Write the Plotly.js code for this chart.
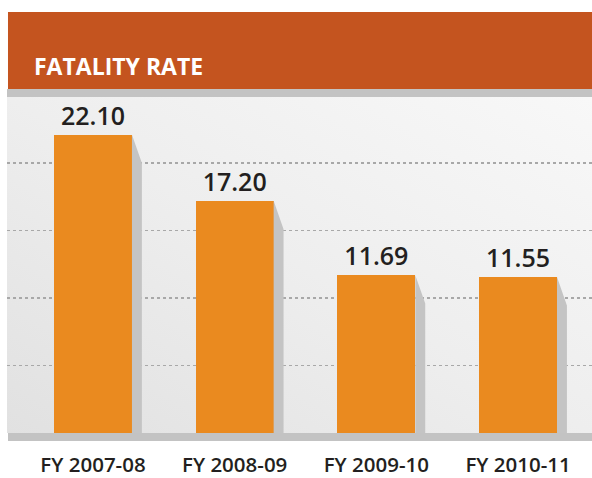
<!DOCTYPE html>
<html>
<head>
<meta charset="utf-8">
<script src="https://cdn.plot.ly/plotly-3.0.1.min.js"></script>
<style>
html,body{margin:0;padding:0;background:#ffffff;}
#wrap{position:relative;width:592px;height:478px;}
#panel{position:absolute;left:7px;top:97px;width:585px;height:336px;
  background:linear-gradient(to bottom left,#f8f8f8 0%,#eeeeee 50%,#e1e1e1 100%);}
#chart{position:absolute;left:0;top:0;width:592px;height:478px;}
</style>
</head>
<body>
<div id="wrap"><div id="panel"></div><div id="chart"></div></div>
<script>
const categories = ["FY 2007-08", "FY 2008-09", "FY 2009-10", "FY 2010-11"];
const fatalityRate = [22.10, 17.20, 11.69, 11.55];
const valueLabels = ["22.10", "17.20", "11.69", "11.55"];
const gridValues = [5, 10, 15, 20];

const idx = categories.map((c, i) => i);
const barWidth = 0.55;
const shadowWidth = 0.07;
const shadowDrop = 2.1;

// shadow polygons derived from the data values
const sx = [], sy = [];
idx.forEach((i) => {
  const x0 = i + barWidth / 2, x1 = x0 + shadowWidth;
  const v = fatalityRate[i];
  sx.push(x0, x1, x1, x0, x0, null);
  sy.push(v, v - shadowDrop, 0, 0, v, null);
});

const traces = [
  {
    type: "scatter", mode: "lines", x: sx, y: sy, fill: "toself",
    fillcolor: "#c4c4c4", line: {width: 0, color: "#c4c4c4"},
    hoverinfo: "skip", showlegend: false
  },
  {
    type: "bar", x: idx, y: fatalityRate, width: barWidth,
    marker: {color: "#ea8a1f", line: {width: 0}},
    text: valueLabels, textposition: "outside", cliponaxis: false,
    textfont: {family: "Open Sans, sans-serif", size: 25, color: "#231f20", weight: 600},
    showlegend: false
  }
];

const layout = {
  width: 592, height: 478,
  margin: {l: 7, r: 0, t: 97, b: 45, pad: 0},
  paper_bgcolor: "rgba(0,0,0,0)",
  plot_bgcolor: "rgba(0,0,0,0)",
  title: {
    text: "FATALITY RATE",
    font: {family: "Open Sans, sans-serif", size: 23, color: "#ffffff", weight: 700},
    x: 34 / 592, xanchor: "left", xref: "container",
    y: 1 - 67 / 478, yanchor: "middle", yref: "container"
  },
  xaxis: {
    range: [-0.607, 3.522], tickvals: idx, ticktext: categories,
    showgrid: false, zeroline: false, showline: false, ticks: "",
    ticklabelstandoff: 17,
    tickfont: {family: "Open Sans, sans-serif", size: 20.5, color: "#231f20", weight: 600},
    fixedrange: true
  },
  yaxis: {
    range: [0, 24.89], tickvals: gridValues, showticklabels: false,
    showgrid: true, gridcolor: "#a8a8a8", griddash: "dot", gridwidth: 1.3,
    zeroline: false, showline: false, ticks: "", fixedrange: true
  },
  shapes: [
    {type: "rect", xref: "paper", yref: "paper", x0: 0.0017, x1: 1, y0: 1.0238, y1: 1.253,
     fillcolor: "#c4541f", line: {width: 0}, layer: "below"},
    {type: "rect", xref: "paper", yref: "paper", x0: 0, x1: 1, y0: 1, y1: 1.0238,
     fillcolor: "#c3c3c3", line: {width: 0}, layer: "below"},
    {type: "rect", xref: "paper", yref: "paper", x0: 0.0017, x1: 1, y0: -0.0238, y1: 0,
     fillcolor: "#c3c3c3", line: {width: 0}, layer: "above"}
  ],
  bargap: 0
};

Plotly.newPlot("chart", traces, layout, {displayModeBar: false, staticPlot: true});
</script>
</body>
</html>
